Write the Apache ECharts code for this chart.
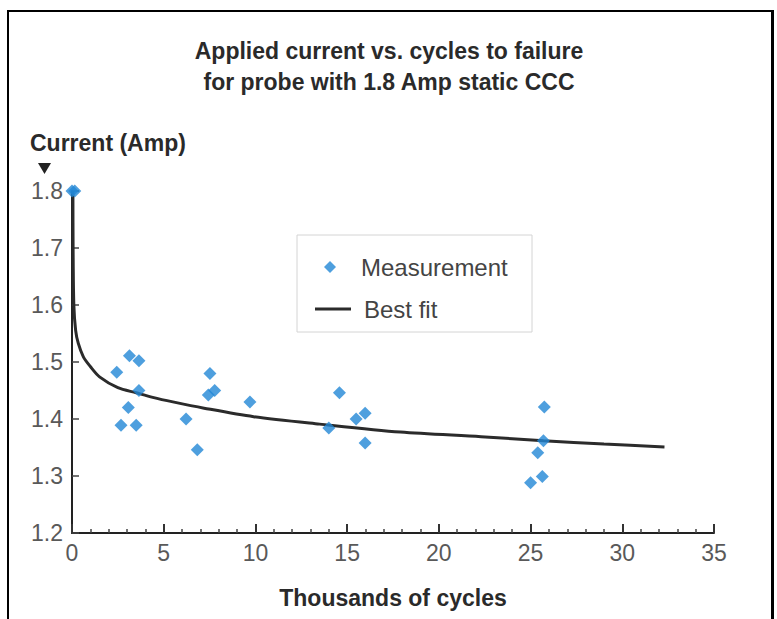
<!DOCTYPE html>
<html>
<head>
<meta charset="utf-8">
<script src="https://cdn.jsdelivr.net/npm/echarts@6/dist/echarts.min.js"></script>
<style>
  html, body { margin: 0; padding: 0; background: #fff; }
  #chart { width: 777px; height: 619px; }
  .frame {
    position: absolute; left: 7px; top: 10px; width: 762px; height: 640px;
    border-left: 2px solid #000; border-top: 2px solid #000; border-right: 3px solid #000;
    pointer-events: none;
  }
</style>
</head>
<body>
<div id="chart"></div>
<div class="frame"></div>
<script>
// measured points (thousands of cycles, amp)
var measX = [0, 0.15, 2.44, 2.67, 3.13, 3.07, 3.65, 3.65, 3.5, 6.22, 6.83, 7.52, 7.43, 7.78, 9.7, 14.0, 14.58, 15.49, 15.98, 15.98, 25.75, 25.7, 25.39, 25.64, 25.0];
var measY = [1.8, 1.8, 1.482, 1.389, 1.511, 1.42, 1.502, 1.45, 1.389, 1.4, 1.346, 1.48, 1.442, 1.45, 1.43, 1.384, 1.446, 1.4, 1.41, 1.358, 1.421, 1.362, 1.341, 1.299, 1.288];

// best fit curve
var fitX = [0.05, 0.06, 0.1, 0.2, 0.34, 0.62, 1.0, 1.5, 2.5, 3.5, 4.4, 5.5, 7.2, 9.9, 13.5, 17.9, 22.3, 25.7, 29.0, 32.3];
var fitY = [1.8, 1.7, 1.6, 1.555, 1.533, 1.509, 1.492, 1.474, 1.455, 1.446, 1.438, 1.43, 1.419, 1.404, 1.391, 1.377, 1.369, 1.362, 1.356, 1.351];

var xTicks = [0, 5, 10, 15, 20, 25, 30, 35];
var yTicks = [1.2, 1.3, 1.4, 1.5, 1.6, 1.7, 1.8];

var font = "'Liberation Sans', Arial, sans-serif";
var myChart = echarts.init(document.getElementById("chart"), null, { renderer: "svg" });

var measData = measX.map(function(x, i) { return [x, measY[i]]; });
var fitData = fitX.map(function(x, i) { return [x, fitY[i]]; });

var legendText = { fontSize: 24, color: "#444", fontFamily: font };

var option = {
  animation: false,
  textStyle: { fontFamily: font },
  title: {
    text: "Applied current vs. cycles to failure\nfor probe with 1.8 Amp static CCC",
    left: 384,
    top: 30,
    textAlign: "center",
    textStyle: { fontSize: 23, fontWeight: "bold", color: "#2a2a2a", lineHeight: 31, fontFamily: font }
  },
  legend: [
    {
      left: 324,
      top: 255,
      padding: 0,
      itemWidth: 12,
      itemHeight: 12,
      textStyle: Object.assign({ padding: [0, 0, 0, 20] }, legendText),
      data: [{ name: "Measurement", icon: "diamond" }]
    },
    {
      left: 315,
      top: 297,
      padding: 0,
      itemWidth: 36,
      itemHeight: 3,
      textStyle: Object.assign({ padding: [0, 0, 0, 8] }, legendText),
      data: [{ name: "Best fit", icon: "rect" }]
    }
  ],
  grid: { left: 72, right: 63, top: 191, bottom: 86 },
  xAxis: {
    type: "value",
    min: xTicks[0],
    max: xTicks[xTicks.length - 1],
    interval: 5,
    name: "Thousands of cycles",
    nameLocation: "middle",
    nameGap: 53,
    nameTextStyle: { fontSize: 23, fontWeight: "bold", color: "#2a2a2a", fontFamily: font },
    axisLine: { lineStyle: { color: "#222", width: 2 } },
    axisTick: { inside: true, length: 9, lineStyle: { color: "#333", width: 2 } },
    minorTick: { show: true, splitNumber: 5, length: 4, lineStyle: { color: "#444", width: 1.5 } },
    axisLabel: { fontSize: 23, color: "#595959", margin: 8 },
    splitLine: { show: false }
  },
  yAxis: {
    type: "value",
    min: yTicks[0],
    max: yTicks[yTicks.length - 1],
    interval: 0.1,
    axisLine: { show: true, lineStyle: { color: "#222", width: 2 } },
    axisTick: { show: true, inside: true, length: 7, lineStyle: { color: "#444", width: 1.5 } },
    axisLabel: { fontSize: 23, color: "#595959", margin: 9, formatter: function(v) { return v.toFixed(1); } },
    splitLine: { show: false }
  },
  graphic: [
    {
      type: "rect",
      shape: { x: 297, y: 235, width: 235, height: 97 },
      style: { fill: "#fff", stroke: "#d4d4d4", lineWidth: 1 },
      z: 0
    },
    {
      type: "text",
      left: 30,
      top: 131,
      style: { text: "Current (Amp)", fontSize: 23, fontWeight: "bold", fill: "#2a2a2a", fontFamily: font }
    },
    {
      type: "polygon",
      shape: { points: [[38, 163], [51, 163], [44.5, 174]] },
      style: { fill: "#222" }
    }
  ],
  series: [
    {
      name: "Best fit",
      type: "line",
      data: fitData,
      symbol: "none",
      smooth: 0.3,
      lineStyle: { color: "#2b2b2b", width: 3 },
      itemStyle: { color: "#2b2b2b" },
      z: 2
    },
    {
      name: "Measurement",
      type: "scatter",
      data: measData,
      symbol: "diamond",
      symbolSize: 13,
      itemStyle: { color: "#2287d6" },
      z: 3
    }
  ]
};

myChart.setOption(option);
</script>
</body>
</html>
